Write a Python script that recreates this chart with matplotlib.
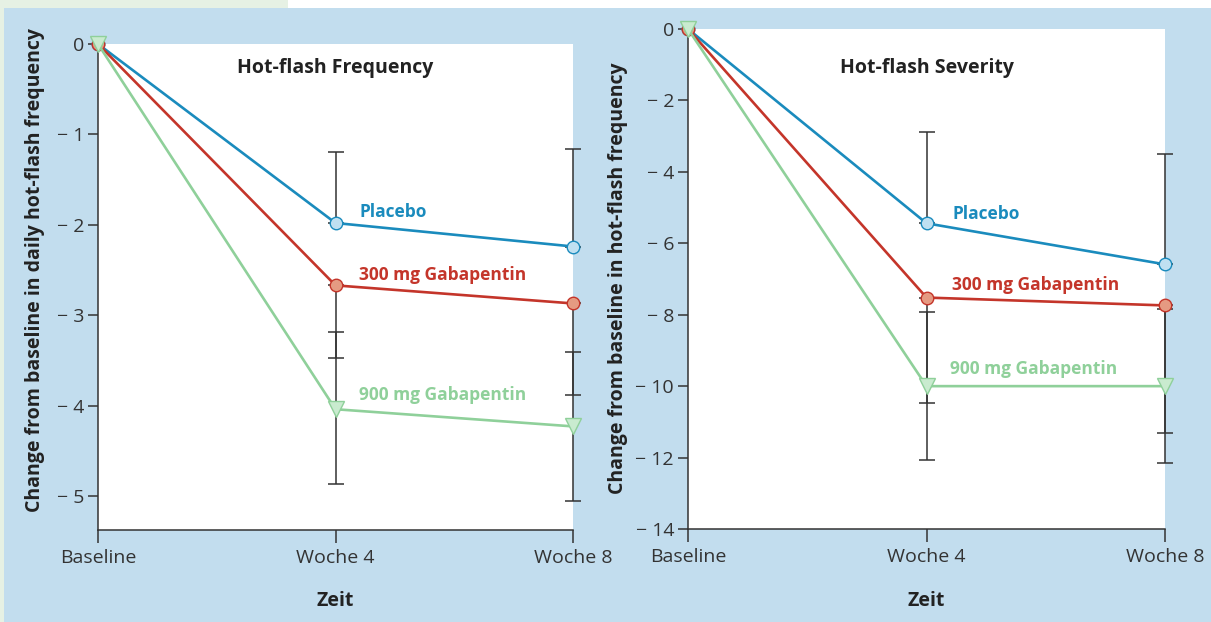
import numpy as np
import matplotlib
matplotlib.use("Agg")
import matplotlib.pyplot as plt
from matplotlib.patches import Rectangle

# =========================================================
# DATA
# =========================================================
weeks = [0, 4, 8]
week_labels = ["Baseline", "Woche 4", "Woche 8"]
series_names = ["Placebo", "300 mg Gabapentin", "900 mg Gabapentin"]

# Hot-flash frequency (change from baseline, daily)
freq_placebo = [0, -1.98, -2.24]
freq_300 = [0, -2.67, -2.87]
freq_900 = [0, -4.04, -4.23]
freq_placebo_up = [0.79, 1.08]      # error bars at Woche 4 / 8
freq_300_down = [0.80, 1.01]
freq_900_up = [0.85, 0.82]
freq_900_down = [0.83, 0.83]

# Hot-flash severity
sev_placebo = [0, -5.44, -6.59]
sev_300 = [0, -7.52, -7.74]
sev_900 = [0, -10.0, -10.0]
sev_placebo_up = [2.55, 3.08]
sev_300_down = [2.95, 3.57]
sev_900_up = [2.07, 2.15]
sev_900_down = [2.07, 2.15]

freq_yticks = [0, -1, -2, -3, -4, -5]
sev_yticks = [0, -2, -4, -6, -8, -10, -12, -14]

# =========================================================
# STYLE
# =========================================================
plt.rcParams["font.family"] = ["Open Sans", "DejaVu Sans"]

BG = "#c2ddee"
DARK = "#333333"
COLORS = {
    "line": ["#1a8bbd", "#c4352a", "#8fd09a"],
    "face": ["#bfe0f1", "#e59a82", "#c9ebcf"],
    "marker": ["o", "o", "v"],
    "ms": [9, 9, 12],
}


def minus_label(v):
    return "0" if v == 0 else "\u2212 " + str(abs(v))


def draw_panel(ax, series, errs, ylim, yticks, title, title_y, ylabel,
               ylabel_xy, text_pos):
    ax.set_facecolor("white")
    ax.set_xlim(0, 8)
    ax.set_ylim(*ylim)

    # error bars (only at Woche 4 / Woche 8)
    for yvals, lower, upper in errs:
        ax.errorbar(weeks[1:], yvals[1:], yerr=[lower, upper], fmt="none",
                    ecolor=DARK, elinewidth=1.1, capsize=5.5, capthick=1.1,
                    zorder=2, clip_on=False)

    for i, yvals in enumerate(series):
        ax.plot(weeks, yvals, color=COLORS["line"][i], lw=1.9,
                marker=COLORS["marker"][i], ms=COLORS["ms"][i],
                mfc=COLORS["face"][i], mec=COLORS["line"][i], mew=1.0,
                zorder=3 + i, clip_on=False)
        tx, ty = text_pos[i]
        ax.text(tx, ty, series_names[i], color=COLORS["line"][i],
                fontsize=12.5, fontweight="bold", ha="left", va="center")

    ax.set_xticks(weeks)
    ax.set_xticklabels(week_labels)
    ax.set_yticks(yticks)
    ax.set_yticklabels([minus_label(v) for v in yticks])
    ax.tick_params(axis="x", length=9, width=1.1, color=DARK, pad=5,
                   labelsize=14, labelcolor=DARK)
    ax.tick_params(axis="y", length=7, width=1.1, color=DARK, pad=3,
                   labelsize=14, labelcolor=DARK)
    for s in ["top", "right"]:
        ax.spines[s].set_visible(False)
    for s in ["left", "bottom"]:
        ax.spines[s].set_color(DARK)
        ax.spines[s].set_linewidth(1.1)

    ax.text(0.5, title_y, title, transform=ax.transAxes, ha="center",
            va="center", fontsize=14, fontweight="bold", color="#222222")
    ax.set_ylabel(ylabel, fontsize=14, fontweight="bold", color="#222222")
    ax.yaxis.set_label_coords(*ylabel_xy)
    ax.set_xlabel("Zeit", fontsize=14, fontweight="bold", color="#222222")
    ax.xaxis.set_label_coords(0.5, -0.125)


fig = plt.figure(figsize=(12.11, 6.22), dpi=100)
fig.patch.set_facecolor(BG)

# page decoration: top strip and left margin
fig.patches.append(Rectangle((0, 1 - 8 / 622), 1, 8 / 622, transform=fig.transFigure,
                             facecolor="white", edgecolor="none", zorder=0))
fig.patches.append(Rectangle((0, 1 - 8 / 622), 288 / 1211, 8 / 622, transform=fig.transFigure,
                             facecolor="#e6f1e4", edgecolor="none", zorder=0))
fig.patches.append(Rectangle((0, 0), 4 / 1211, 1, transform=fig.transFigure,
                             facecolor="#e6f1e4", edgecolor="none", zorder=0))

ax1 = fig.add_axes([98 / 1211, 1 - 530 / 622, 475 / 1211, 486 / 622])
ax2 = fig.add_axes([688 / 1211, 1 - 529 / 622, 477 / 1211, 500 / 622])

draw_panel(
    ax1,
    [freq_placebo, freq_300, freq_900],
    [(freq_placebo, [0, 0], freq_placebo_up),
     (freq_300, freq_300_down, [0, 0]),
     (freq_900, freq_900_down, freq_900_up)],
    (-5.376, 0), freq_yticks, "Hot-flash Frequency", 0.951,
    "Change from baseline in daily hot-flash frequency", (-0.112, 0.535),
    [(4.4, -1.86), (4.4, -2.56), (4.4, -3.88)],
)
draw_panel(
    ax2,
    [sev_placebo, sev_300, sev_900],
    [(sev_placebo, [0, 0], sev_placebo_up),
     (sev_300, sev_300_down, [0, 0]),
     (sev_900, sev_900_down, sev_900_up)],
    (-14, 0), sev_yticks, "Hot-flash Severity", 0.922,
    "Change from baseline in hot-flash frequency", (-0.126, 0.502),
    [(4.43, -5.19), (4.43, -7.18), (4.4, -9.51)],
)

fig.savefig("out.png", dpi=100, facecolor=fig.get_facecolor())
